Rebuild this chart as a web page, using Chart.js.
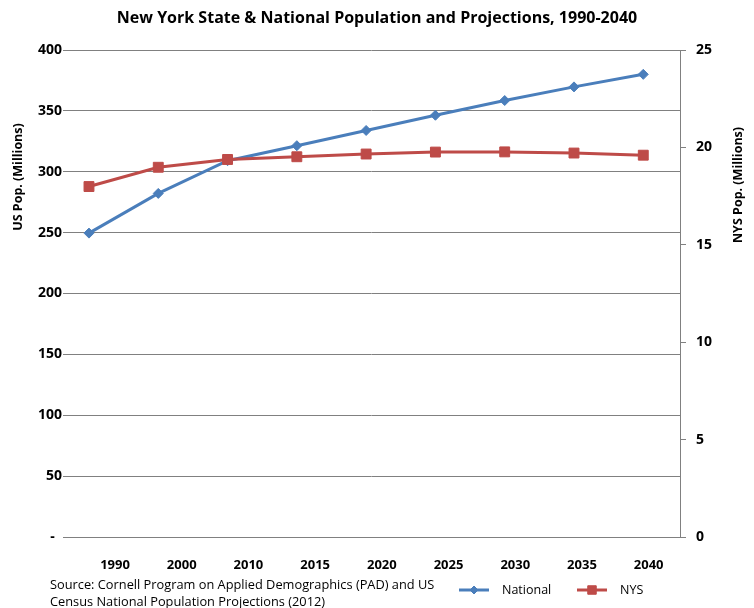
<!DOCTYPE html>
<html>
<head>
<meta charset="utf-8">
<title>NY State & National Population</title>
<script src="https://cdn.jsdelivr.net/npm/chart.js@4.4.1/dist/chart.umd.min.js"></script>
<style>
    body { margin: 0; background: #fff; }
    canvas { display: block; }
</style>
</head>
<body>
<canvas id="popChart" width="754" height="608"></canvas>
<script>
// Data (millions)
const years = ['1990', '2000', '2010', '2015', '2020', '2025', '2030', '2035', '2040'];
const nationalPop = [249.6, 282.2, 309.1, 321.4, 333.9, 346.4, 358.5, 369.7, 380.0];
const nysPop = [17.99, 18.98, 19.38, 19.52, 19.66, 19.76, 19.77, 19.71, 19.60];

const chartTitle = 'New York State & National Population and Projections, 1990-2040';
const usAxisTitle = 'US Pop. (Millions)';
const nysAxisTitle = 'NYS Pop. (Millions)';
const sourceLines = [
    'Source: Cornell Program on Applied Demographics (PAD) and US',
    'Census National Population Projections (2012)'
];

const FONT = '"Open Sans", "Liberation Sans", sans-serif';
const GRID = '#808080';
const BLUE = '#4a7ebb';
const RED = '#be4b48';

// Titles, source note and legend drawn on top of the chart
const annotations = {
    id: 'annotations',
    afterDraw(chart) {
        const ctx = chart.ctx;
        ctx.save();
        ctx.fillStyle = '#000';
        ctx.textBaseline = 'middle';
        ctx.textAlign = 'center';

        ctx.font = `bold 16px ${FONT}`;
        ctx.fillText(chartTitle, 377, 18);

        ctx.font = `bold 12.5px ${FONT}`;
        ctx.save();
        ctx.translate(18, 177);
        ctx.rotate(-Math.PI / 2);
        ctx.fillText(usAxisTitle, 0, 0);
        ctx.restore();

        ctx.save();
        ctx.translate(738, 185);
        ctx.rotate(-Math.PI / 2);
        ctx.fillText(nysAxisTitle, 0, 0);
        ctx.restore();

        ctx.textAlign = 'left';
        ctx.font = `12.8px ${FONT}`;
        ctx.fillText(sourceLines[0], 50, 585);
        ctx.fillText(sourceLines[1], 50, 602);

        // legend
        const items = [
            { x: 459, ds: chart.data.datasets[0], r: 4 },
            { x: 577, ds: chart.data.datasets[1], r: 6 }
        ];
        items.forEach(item => {
            const y = 590;
            ctx.strokeStyle = item.ds.borderColor;
            ctx.fillStyle = item.ds.backgroundColor;
            ctx.lineWidth = 3;
            ctx.beginPath();
            ctx.moveTo(item.x, y);
            ctx.lineTo(item.x + 30, y);
            ctx.stroke();
            ctx.lineWidth = 1;
            Chart.helpers.drawPoint(ctx, { pointStyle: item.ds.pointStyle, radius: item.r, rotation: 0, borderWidth: 1 }, item.x + 15, y);
            ctx.fillStyle = '#000';
            ctx.font = `12.5px ${FONT}`;
            ctx.fillText(item.ds.label, item.x + 43, y);
        });
        ctx.restore();
    }
};

const ctx = document.getElementById('popChart').getContext('2d');

new Chart(ctx, {
    type: 'line',
    data: {
        datasets: [
            {
                label: 'National',
                data: nationalPop.map((v, i) => ({ x: i, y: v })),
                borderColor: BLUE,
                backgroundColor: BLUE,
                borderWidth: 3,
                pointStyle: 'rectRot',
                pointRadius: 5,
                pointBorderWidth: 1,
                xAxisID: 'x',
                yAxisID: 'y',
                order: 1
            },
            {
                label: 'NYS',
                data: nysPop.map((v, i) => ({ x: i, y: v })),
                borderColor: RED,
                backgroundColor: RED,
                borderWidth: 3,
                pointStyle: 'rect',
                pointRadius: 7,
                pointBorderWidth: 1,
                xAxisID: 'x',
                yAxisID: 'y1',
                order: 0
            }
        ]
    },
    options: {
        responsive: false,
        animation: false,
        layout: { padding: { top: 50, left: 0, right: 0, bottom: 0 } },
        plugins: {
            legend: { display: false },
            title: { display: false },
            tooltip: { enabled: false }
        },
        scales: {
            x: {
                type: 'linear',
                display: false,
                min: -0.375,
                max: 8.53
            },
            xl: {
                type: 'linear',
                position: 'bottom',
                min: -0.78,
                max: 8.47,
                afterBuildTicks: (scale) => {
                    scale.ticks = years.map((y, i) => ({ value: i }));
                },
                afterFit: (scale) => { scale.height = 71; },
                grid: { display: false },
                border: { display: true, color: GRID, width: 1 },
                ticks: {
                    autoSkip: false,
                    maxRotation: 0,
                    padding: 12,
                    color: '#000',
                    font: { family: FONT, size: 13, weight: 'bold' },
                    callback: (value) => years[value]
                }
            },
            y: {
                position: 'left',
                min: 0,
                max: 400,
                afterFit: (scale) => { scale.width = 63; },
                grid: { color: GRID, drawTicks: false },
                border: { display: false },
                ticks: {
                    stepSize: 50,
                    padding: 1,
                    color: '#000',
                    font: { family: FONT, size: 14, weight: 'bold' },
                    callback: (value) => value === 0 ? '-  ' : value
                }
            },
            y1: {
                position: 'right',
                min: 0,
                max: 25,
                afterFit: (scale) => { scale.width = 74; },
                grid: { drawOnChartArea: false, color: GRID, tickLength: 6 },
                border: { display: true, color: GRID, width: 1 },
                ticks: {
                    stepSize: 5,
                    padding: 10,
                    color: '#000',
                    font: { family: FONT, size: 14, weight: 'bold' }
                }
            }
        }
    },
    plugins: [annotations]
});
</script>
</body>
</html>
